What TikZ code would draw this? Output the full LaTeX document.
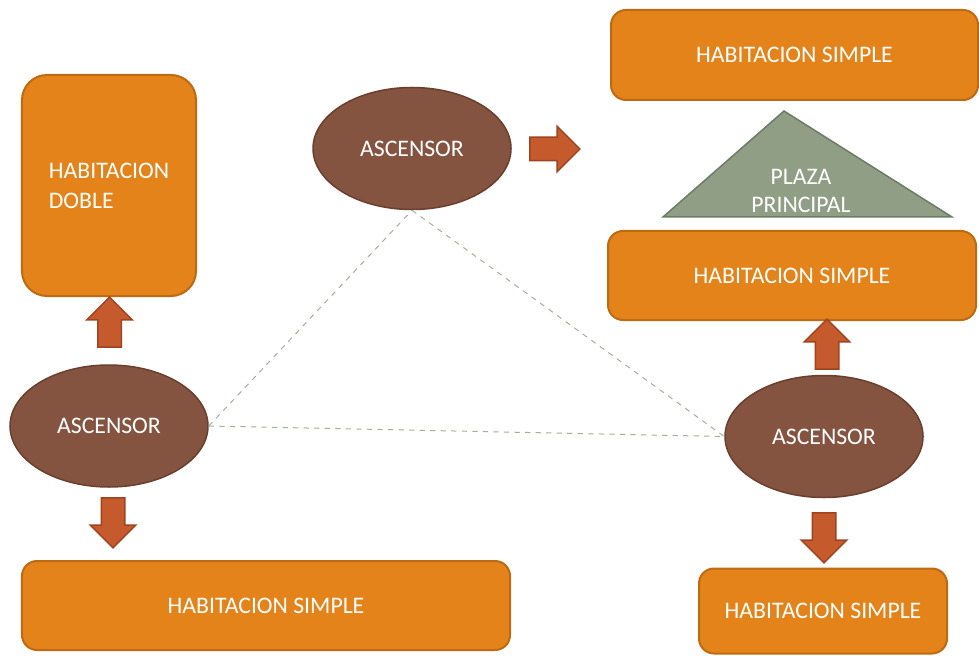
\documentclass[tikz,border=0pt]{standalone}
\usepackage{fontspec}
\setmainfont{Carlito}
\usetikzlibrary{shapes.geometric,shapes.arrows}
\definecolor{naranja}{HTML}{E3831A}
\definecolor{naranjaosc}{HTML}{BD6A12}
\definecolor{marron}{HTML}{855440}
\definecolor{marronosc}{HTML}{6A3F2E}
\definecolor{rojo}{HTML}{C55A2C}
\definecolor{rojoosc}{HTML}{9E4420}
\definecolor{plaza}{HTML}{8F9E85}
\definecolor{plazaosc}{HTML}{6C7B63}
\definecolor{gris}{HTML}{A4AE9C}
\begin{document}
\begin{tikzpicture}[x=0.2mm, y=-0.2mm, font=\fontsize{13.5}{17}\selectfont,
		hab/.style={rectangle, rounded corners=3mm, draw=naranjaosc, line width=0.4mm, fill=naranja, text=white},
		asc/.style={ellipse, draw=marronosc, line width=0.3mm, fill=marron, text=white, minimum width=39.6mm, minimum height=24.4mm},
		flecha/.style={single arrow, draw=rojoosc, line width=0.3mm, fill=rojo, inner sep=2.2mm,
			single arrow head extend=2.2mm, minimum height=10mm},
		enlace/.style={dashed, gris, line width=0.2mm}]
			\useasboundingbox (0,0) rectangle (979,655);
			% rooms
			\node[hab, rounded corners=5mm, minimum width=34.8mm, minimum height=44.2mm, align=left] (hd) at (109,185.5) {HABITACION\\DOBLE};
			\node[hab, minimum width=97.6mm, minimum height=17.8mm] (hs1) at (266,605.5) {HABITACION SIMPLE};
			\node[hab, minimum width=73.4mm, minimum height=18mm] (hs2) at (794.5,55) {HABITACION SIMPLE};
			\node[hab, minimum width=73.6mm, minimum height=17.8mm] (hs3) at (792,275.5) {HABITACION SIMPLE};
			\node[hab, minimum width=49.6mm, minimum height=17mm] (hs4) at (823,611) {HABITACION SIMPLE};
			
			% main square
			\draw[fill=plaza, draw=plazaosc, line width=0.3mm] (784,111) -- (952,217) -- (663,217) -- cycle;
			\node[text=white, align=center, font=\fontsize{13.5}{16}\selectfont] (pp) at (801,191) {PLAZA\\PRINCIPAL};
			
			% lifts
			\node[asc] (asc1) at (109,426) {ASCENSOR};
			\node[asc] (asc2) at (412,148.5) {ASCENSOR};
			\node[asc] (asc3) at (824,436.5) {ASCENSOR};
			
			\draw[enlace] (asc1.east) -- (asc2.south);
			\draw[enlace] (asc2.south) -- (asc3.west);
			\draw[enlace] (asc1.east) -- (asc3.west);
			
			% block arrows (node centre sits a little behind the middle)
			\node[flecha, shape border rotate=90] (f1) at (109.5,328) {};
			\node[flecha, shape border rotate=270] (f2) at (113,517) {};
			\node[flecha] (f3) at (549,149) {};
			\node[flecha, shape border rotate=90] (f4) at (827,350) {};
			\node[flecha, shape border rotate=270] (f5) at (824,532) {};
		\end{tikzpicture}
\end{document}
